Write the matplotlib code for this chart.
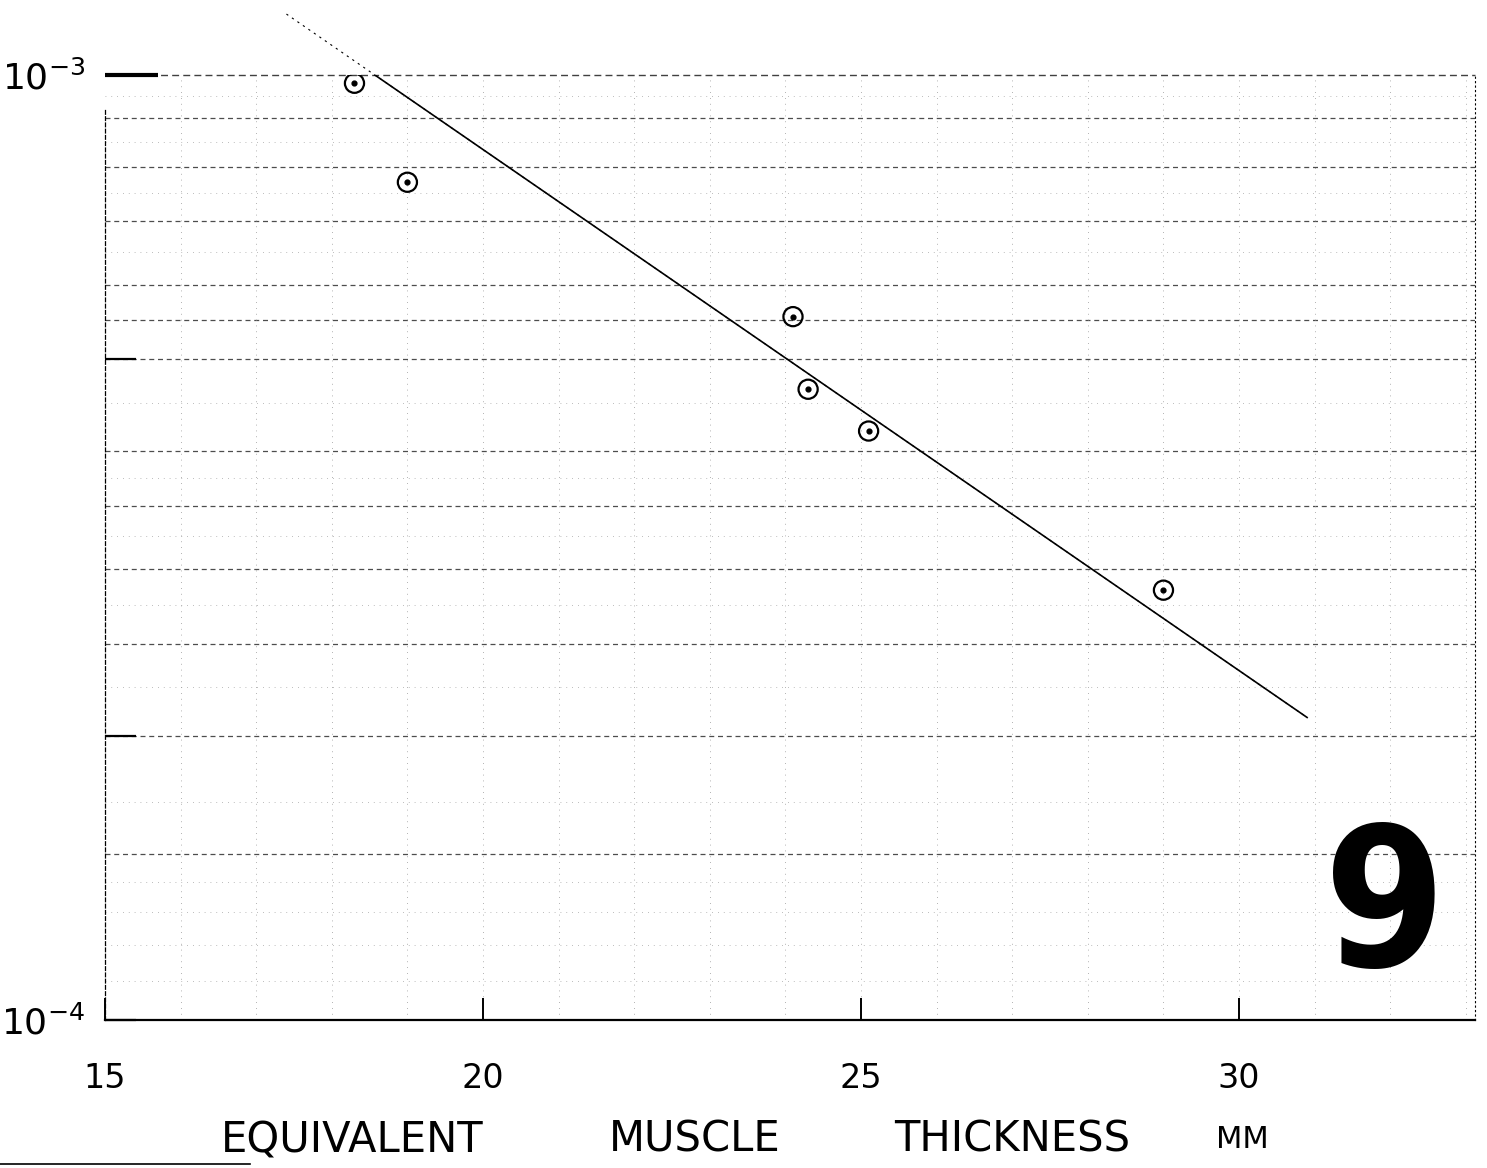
import numpy as np
import matplotlib
matplotlib.use("Agg")
import matplotlib.pyplot as plt
from matplotlib.lines import Line2D

# values
thickness = [18.3, 19.0, 24.1, 24.3, 25.1, 29.0]
ratio = [9.8e-4, 7.7e-4, 5.55e-4, 4.65e-4, 4.2e-4, 2.85e-4]
fit_x = [17.4, 30.9]
fit_y = [1.16e-3, 2.09e-4]

x_ticks = [15, 20, 25, 30]
x_labels = ["15", "20", "25", "30"]
y_ticks = [1e-4, 2e-4, 5e-4, 1e-3]
y_labels = ["$10^{-4}$", "", "", "$10^{-3}$"]

grid_major = [9e-4, 8e-4, 7e-4, 6e-4, 5.5e-4, 5e-4, 4e-4, 3.5e-4, 3e-4,
              2.5e-4, 2e-4, 1.5e-4]
grid_minor = [1.1e-4, 1.2e-4, 1.3e-4, 1.4e-4, 1.7e-4, 2.25e-4, 2.75e-4,
              3.25e-4, 3.75e-4, 4.5e-4, 6.5e-4, 7.5e-4, 8.5e-4, 9.5e-4]

# x label words, written by hand with wide gaps
label_words = ["EQUIVALENT", "MUSCLE", "THICKNESS", "MM"]
word_x = [352, 695, 1012, 1242]

fig = plt.figure(figsize=(14.87, 11.68), dpi=100)
ax = fig.add_axes([0.0706, 0.1267, 0.9213, 0.8091])
ax.set_yscale("log")
ax.set_xlim(15, 33.12)
ax.set_ylim(1e-4, 1e-3)

# graph-paper rulings
for v in grid_major:
    ax.axhline(v, color="0.3", lw=0.9, ls=(0, (4, 3)), zorder=1)
for v in grid_minor:
    ax.axhline(v, color="0.65", lw=0.6, ls=(0, (1, 6)), zorder=1)
ax.axhline(1e-3, color="0.25", lw=1.0, ls=(0, (5, 3)), zorder=1, clip_on=False)
for v in range(16, 34):
    ax.axvline(v, color="0.6", lw=0.6, ls=(0, (1, 6)), zorder=1)

# fitted line: dotted where it runs off the paper, solid inside
ax.plot(fit_x, fit_y, color="black", lw=0.8, ls=(0, (2, 4)), clip_on=False, zorder=2)
ax.plot(fit_x, fit_y, color="black", lw=1.2, zorder=3)

ax.scatter(thickness, ratio, s=190, facecolor="none", edgecolor="black",
           lw=1.6, zorder=4)
ax.scatter(thickness, ratio, s=12, color="black", zorder=5)

ax.spines["top"].set_visible(False)
ax.spines["left"].set_linestyle((0, (3, 2)))
ax.spines["left"].set_linewidth(0.9)
ax.spines["left"].set_bounds(1e-4, 9.2e-4)
ax.spines["right"].set_linestyle((0, (1, 3)))
ax.spines["right"].set_linewidth(0.8)
ax.spines["bottom"].set_linewidth(1.6)

ax.set_xticks(x_ticks)
ax.set_xticklabels(x_labels)
ax.set_yticks(y_ticks)
ax.set_yticklabels(y_labels)
ax.yaxis.set_minor_locator(matplotlib.ticker.NullLocator())
ax.tick_params(axis="x", direction="in", length=16, width=1.4, pad=30,
               labelsize=24)
ax.tick_params(axis="y", direction="in", length=22, width=1.6, pad=14,
               labelsize=26)
ax.get_yticklines()[-2].set_markersize(38)
ax.get_yticklines()[-2].set_markeredgewidth(3)

for w, px in zip(label_words, word_x):
    fig.text(px / 1487, 1 - 1140 / 1168, w, ha="center", va="center",
             fontsize=22 if w == "MM" else 30, fontstretch="expanded")
fig.text(1385 / 1487, 1 - 912 / 1168, "9", ha="center", va="center",
         fontsize=140, fontweight="heavy", fontstretch="condensed")
fig.add_artist(Line2D([0, 250 / 1487], [0.003, 0.003], color="black", lw=1.2))

fig.savefig("out.png", dpi=100)
